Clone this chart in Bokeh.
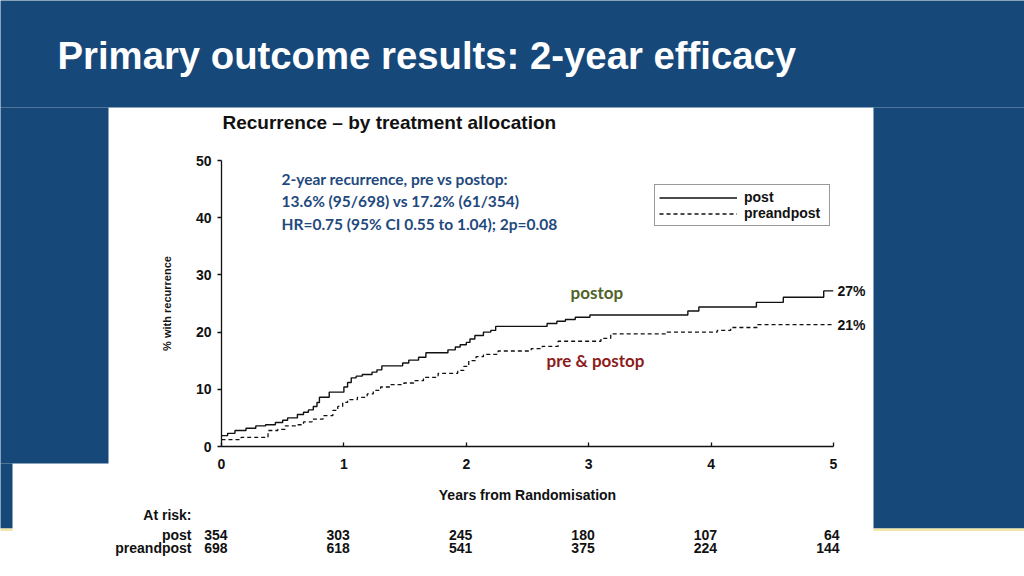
from bokeh.plotting import figure
from bokeh.models import Range1d, FixedTicker, Legend
from bokeh.embed import file_html
from bokeh.resources import INLINE
from bokeh.core.properties import value

# ---------------- data ----------------
post_years = [0, 0.05, 0.11, 0.20, 0.28, 0.36, 0.44, 0.50, 0.54, 0.62,
              0.67, 0.71, 0.75, 0.78, 0.80, 0.88, 1.00, 1.03, 1.06, 1.10,
              1.15, 1.23, 1.27, 1.31, 1.48, 1.53, 1.61, 1.67, 1.85, 1.91,
              1.95, 2.00, 2.03, 2.07, 2.14, 2.20, 2.24, 2.66, 2.74, 2.81,
              2.89, 3.01, 3.81, 3.90, 4.37, 4.59, 4.92, 5.00]
post_pct = [1.9, 2.3, 2.8, 3.2, 3.6, 3.8, 4.2, 4.6, 5.0, 5.6,
            6.0, 6.4, 7.0, 7.7, 8.6, 9.5, 10.4, 11.2, 12.0, 12.3,
            12.6, 13.0, 13.4, 14.1, 14.6, 15.1, 15.6, 16.4, 16.9, 17.4,
            17.8, 18.2, 18.8, 19.4, 20.0, 20.3, 21.0, 21.5, 21.9, 22.2,
            22.6, 23.0, 23.7, 24.4, 25.2, 26.1, 27.2, 27.2]
pre_years = [0, 0.16, 0.38, 0.46, 0.52, 0.61, 0.67, 0.74, 0.83, 0.91,
             0.95, 0.99, 1.03, 1.11, 1.19, 1.24, 1.30, 1.38, 1.49, 1.57,
             1.65, 1.77, 1.93, 1.98, 2.02, 2.08, 2.14, 2.26, 2.53, 2.62,
             2.75, 3.10, 3.18, 3.64, 4.05, 4.16, 4.38, 5.00]
pre_pct = [1.2, 1.6, 2.8, 3.0, 3.6, 3.8, 4.3, 4.8, 5.4, 6.3,
           7.0, 7.7, 8.2, 8.6, 9.2, 9.8, 10.4, 10.8, 11.1, 11.5,
           12.1, 12.8, 13.3, 14.0, 15.0, 15.7, 16.1, 16.7, 17.1, 17.5,
           18.4, 18.9, 19.7, 20.0, 20.3, 20.8, 21.3, 21.3]
series_names = ["post", "preandpost"]
end_labels = ["27%", "21%"]
x_ticks = [0, 1, 2, 3, 4, 5]
y_ticks = [0, 10, 20, 30, 40, 50]
risk_years = [0, 1, 2, 3, 4, 5]
risk_post = [354, 303, 245, 180, 107, 64]
risk_pre = [698, 618, 541, 375, 224, 144]
slide_title = "Primary outcome results: 2-year efficacy"
chart_title = "Recurrence \u2013 by treatment allocation"
note_lines = ["2-year recurrence, pre vs postop:",
              "13.6% (95/698) vs 17.2% (61/354)",
              "HR=0.75 (95% CI 0.55 to 1.04); 2p=0.08"]
group_labels = ["postop", "pre & postop"]

# ---------------- styles ----------------
BLUE = "#16487a"
YELLOW = "#f2e7a6"
INK = "#111111"
FONT = "Liberation Sans"
NOTE_FONT = "Lato"

# frame placed at window pixels x 221..833, y 160..446
p = figure(width=1024, height=576, x_range=Range1d(0, 5), y_range=Range1d(0, 50),
           output_backend="svg", toolbar_location=None,
           min_border_left=221, min_border_right=191, min_border_top=160, min_border_bottom=130)
p.background_fill_color = "white"
p.border_fill_color = "white"
p.outline_line_color = None
p.grid.visible = False
# a pixel-space coordinate system for page decoration and free text
p.extra_x_ranges = {"px": Range1d(221, 833)}
p.extra_y_ranges = {"px": Range1d(446, 160)}

for ax in (p.xaxis[0], p.yaxis[0]):
    ax.axis_line_color = INK
    ax.axis_line_width = 1.3
    ax.major_tick_line_color = INK
    ax.major_tick_line_width = 1.3
    ax.minor_tick_in = 0
    ax.minor_tick_out = 0
    ax.major_label_text_font = FONT
    ax.major_label_text_font_style = "bold"
    ax.major_label_text_font_size = "14px"
    ax.major_label_text_color = INK
    ax.axis_label_text_font = FONT
    ax.axis_label_text_font_style = "bold"
    ax.axis_label_text_color = INK

p.xaxis.ticker = FixedTicker(ticks=x_ticks, minor_ticks=[])
p.yaxis.ticker = FixedTicker(ticks=y_ticks, minor_ticks=[])
p.xaxis.major_tick_in = 4
p.xaxis.major_tick_out = 0
p.xaxis.major_label_standoff = 12
p.xaxis.axis_label = "Years from Randomisation"
p.xaxis.axis_label_text_font_size = "14px"
p.xaxis.axis_label_standoff = 15
p.yaxis.major_tick_in = 0
p.yaxis.major_tick_out = 4
p.yaxis.major_label_standoff = 6
p.yaxis.axis_label = "% with recurrence"
p.yaxis.axis_label_text_font_size = "11px"
p.yaxis.axis_label_standoff = 20

r_post = p.step(post_years, post_pct, mode="after", line_color=INK, line_width=1.4)
r_pre = p.step(pre_years, pre_pct, mode="after", line_color=INK, line_width=1.3, line_dash="4 3")

legend = Legend(items=[(series_names[0], [r_post]), (series_names[1], [r_pre])],
                location=(433, 220), orientation="vertical",
                padding=4, spacing=0, margin=0,
                glyph_width=78, glyph_height=13, label_height=13, label_width=81, label_standoff=7,
                label_text_font=FONT, label_text_font_style="bold", label_text_font_size="14px",
                label_text_color=INK,
                border_line_color="#333333", border_line_width=1.2,
                background_fill_color="white", background_fill_alpha=1.0)
p.add_layout(legend)

# ---------------- page decoration (pixel space, drawn unclipped) ----------------
PX = dict(x_range_name="px", y_range_name="px", level="overlay")
p.quad(left=[0, 0, 0, 873], right=[1024, 108, 12, 1024], top=[0, 107, 463, 107],
       bottom=[107, 463, 528, 528], color=BLUE, line_color=None, **PX)
p.quad(left=[0, 873], right=[12, 1024], top=[528, 528], bottom=[530.5, 530.5],
       color=YELLOW, line_color=None, **PX)

p.text(x=[57], y=[55], text=[slide_title], text_font=value(FONT), text_font_style="bold",
       text_font_size="38.3px", text_color="white", text_baseline="middle", **PX)
p.text(x=[222], y=[122], text=[chart_title], text_font=value(FONT), text_font_style="bold",
       text_font_size="19px", text_color=INK, text_baseline="middle", **PX)

# note lines
p.text(x=[281] * len(note_lines), y=[178, 200, 223], text=note_lines, text_font=value(NOTE_FONT),
       text_font_style="bold", text_font_size="15.5px", text_color="#1f497d",
       text_baseline="middle", **PX)

# curve group names
p.text(x=[570], y=[292], text=[group_labels[0]], text_font=value(NOTE_FONT), text_font_style="bold",
       text_font_size="17px", text_color="#4f6228", text_baseline="middle", **PX)
p.text(x=[546], y=[360], text=[group_labels[1]], text_font=value(NOTE_FONT), text_font_style="bold",
       text_font_size="17px", text_color="#8c1c1c", text_baseline="middle", **PX)

# end-of-curve labels (data space)
p.text(x=[x_ticks[-1]] * 2, y=[post_pct[-1], pre_pct[-1]], text=end_labels, x_offset=4,
       text_font=value(FONT), text_font_style="bold", text_font_size="14px", text_color=INK,
       text_baseline="middle", level="overlay")

# at-risk table
p.text(x=[191, 191, 191], y=[514, 534, 547], text=["At risk:"] + series_names,
       text_font=value(FONT), text_font_style="bold", text_font_size="14px", text_color=INK,
       text_align="right", text_baseline="middle", **PX)
for counts, py in zip([risk_post, risk_pre], [534, 547]):
    p.text(x=risk_years, y=[py] * len(risk_years), text=[str(c) for c in counts], x_offset=6,
           y_range_name="px", level="overlay",
           text_font=value(FONT), text_font_style="bold", text_font_size="14px", text_color=INK,
           text_align="right", text_baseline="middle")

open("out.html", "w").write(file_html(p, INLINE))
